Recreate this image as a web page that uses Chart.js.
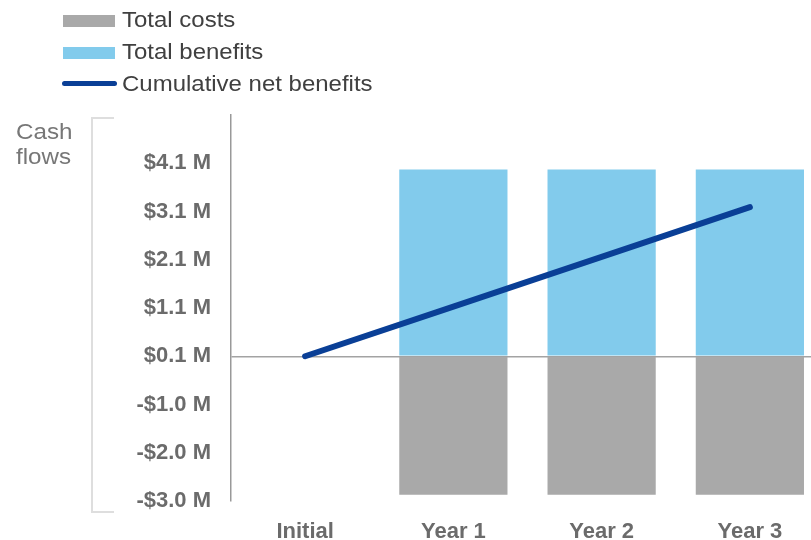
<!DOCTYPE html>
<html>
<head>
<meta charset="utf-8">
<script src="https://cdn.jsdelivr.net/npm/chart.js@4"></script>
<style>
    body { margin: 0; overflow: hidden; background: #fff; font-family: "Liberation Sans", Arial, sans-serif; }
    #wrap { position: absolute; left: 0; top: 0; width: 824px; height: 540px; }
    .legend-text { position: absolute; left: 122px; font-size: 22px; line-height: 26px; color: #404040; white-space: nowrap; transform: scaleX(1.09); transform-origin: left center; }
    .swatch { position: absolute; left: 63px; width: 52px; height: 12px; }
    .swatch.line { left: 62px; width: 55px; height: 5px; border-radius: 3px; }
    #axisTitle { position: absolute; left: 16px; top: 119px; font-size: 22px; line-height: 25px; color: #777; transform: scaleX(1.1); transform-origin: left center; }
    #bracket { position: absolute; left: 91px; top: 117px; width: 21px; height: 392px; border: 2px solid #dedede; border-right: none; }
</style>
</head>
<body>
<div id="wrap"><canvas id="cashChart" width="824" height="540"></canvas></div>

<div class="swatch" style="top:15px; background:#a9a9a9;"></div>
<div class="legend-text" style="top:7px;">Total costs</div>
<div class="swatch" style="top:47px; background:#82cbec;"></div>
<div class="legend-text" style="top:39px;">Total benefits</div>
<div class="swatch line" style="top:81px; background:#0a3f96;"></div>
<div class="legend-text" style="top:71px;">Cumulative net benefits</div>

<div id="axisTitle">Cash<br>flows</div>
<div id="bracket"></div>

<script>
// values in $M
const categories = ['Initial', 'Year 1', 'Year 2', 'Year 3'];
const totalCosts = [null, -2.87, -2.87, -2.87];
const totalBenefits = [null, 3.87, 3.87, 3.87];
const cumulativeNet = [0, 1.03, 2.06, 3.09];

// axis ticks as printed on the original
const tickValues = [-3, -2, -1, 0, 1, 2, 3, 4];
const tickLabels = ['-$3.0 M', '-$2.0 M', '-$1.0 M', '$0.1 M', '$1.1 M', '$2.1 M', '$3.1 M', '$4.1 M'];

document.addEventListener('DOMContentLoaded', function() {
    const ctx = document.getElementById('cashChart');

    new Chart(ctx, {
        type: 'bar',
        data: {
            labels: categories,
            datasets: [{
                type: 'line',
                label: 'Cumulative net benefits',
                data: cumulativeNet,
                stack: 'net',
                order: 0,
                borderColor: '#0a3f96',
                borderWidth: 6,
                borderCapStyle: 'round',
                pointRadius: 0,
                tension: 0,
                fill: false
            }, {
                label: 'Total costs',
                data: totalCosts,
                stack: 'cash',
                order: 1,
                backgroundColor: '#a9a9a9',
                barPercentage: 0.73,
                categoryPercentage: 1
            }, {
                label: 'Total benefits',
                data: totalBenefits,
                stack: 'cash',
                order: 1,
                backgroundColor: '#82cbec',
                barPercentage: 0.73,
                categoryPercentage: 1
            }]
        },
        options: {
            responsive: false,
            animation: false,
            layout: { padding: { top: 115, left: 0, right: 0, bottom: 0 } },
            plugins: {
                legend: { display: false },
                tooltip: { enabled: false }
            },
            scales: {
                x: {
                    stacked: true,
                    grid: { display: false, drawTicks: false },
                    border: { display: false },
                    ticks: {
                        color: '#6b6b6b',
                        padding: 18,
                        font: { family: '"Liberation Sans", Arial, sans-serif', size: 22, weight: 'bold' }
                    },
                    afterFit: function(scale) { scale.height = 39; }
                },
                y: {
                    stacked: true,
                    min: -3,
                    max: 5,
                    afterBuildTicks: function(scale) {
                        scale.ticks = tickValues.map(v => ({ value: v }));
                    },
                    afterFit: function(scale) { scale.width = 231; },
                    grid: {
                        drawTicks: false,
                        lineWidth: 1.5,
                        color: function(c) {
                            return c.tick && c.tick.value === 0 ? '#a3a3a3' : 'rgba(0,0,0,0)';
                        }
                    },
                    border: { display: true, color: '#999999', width: 1.5 },
                    ticks: {
                        color: '#6b6b6b',
                        padding: 20,
                        font: { family: '"Liberation Sans", Arial, sans-serif', size: 22, weight: 'bold' },
                        callback: function(value) {
                            return tickLabels[tickValues.indexOf(value)];
                        }
                    }
                }
            }
        }
    });
});
</script>
</body>
</html>
